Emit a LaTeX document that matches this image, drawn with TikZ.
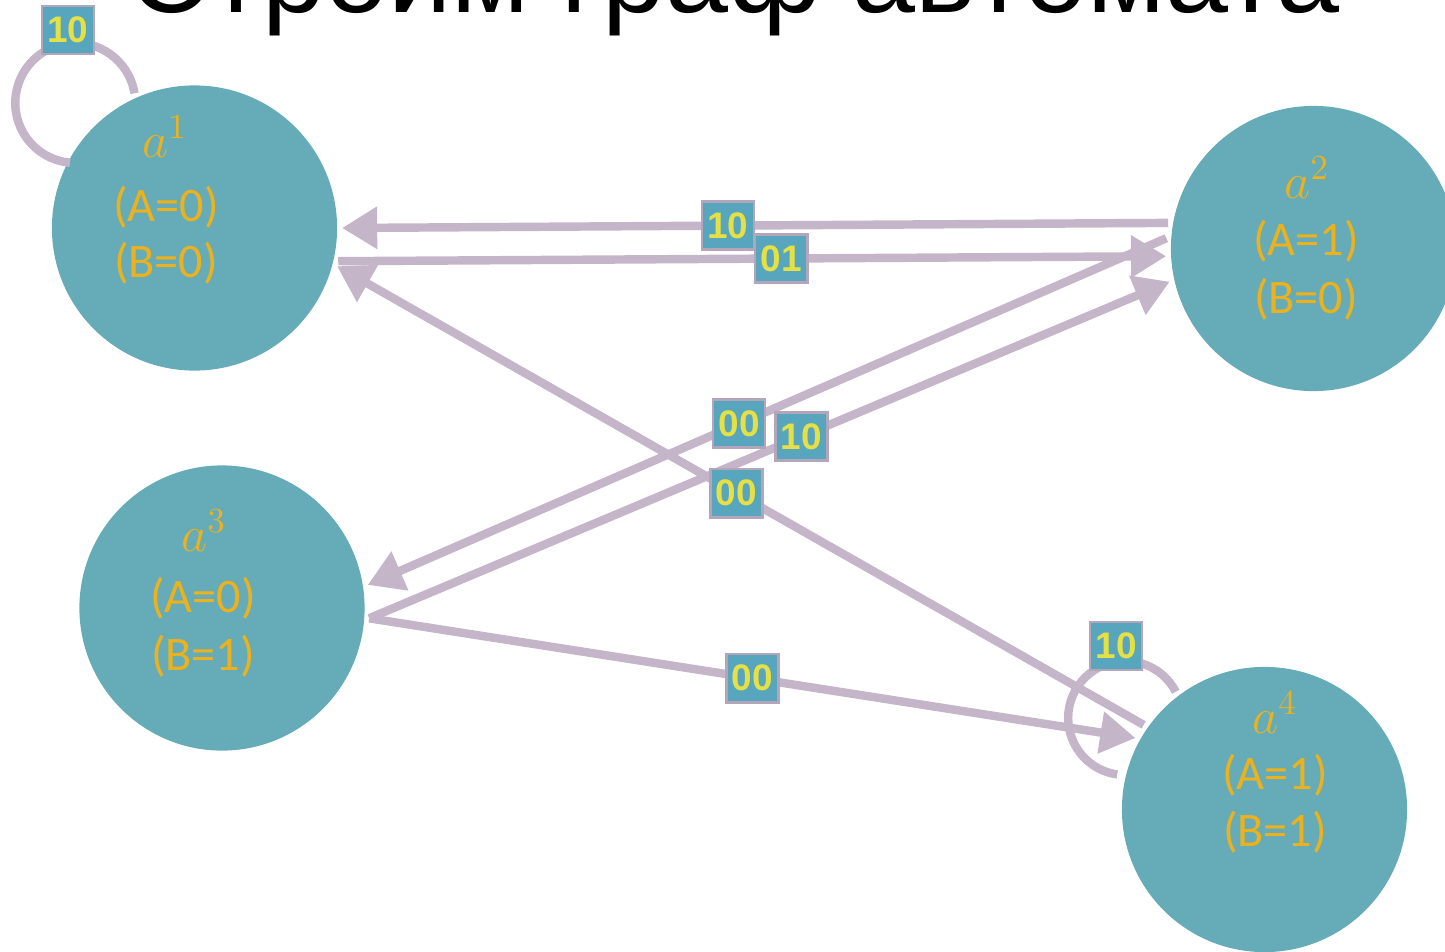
\documentclass[tikz,border=0pt]{standalone}
\usepackage{fontspec}
\setmainfont{Carlito}
\newfontfamily\headfont{Liberation Sans}
\newfontfamily\tagfont{Liberation Sans}
\usetikzlibrary{arrows.meta,calc}

\definecolor{statefill}{RGB}{102,171,184}
\definecolor{stategold}{RGB}{235,178,30}
\definecolor{edgelilac}{RGB}{197,181,201}
\definecolor{tagfill}{RGB}{88,166,190}
\definecolor{tagtext}{RGB}{228,224,70}
\definecolor{tagborder}{RGB}{180,166,186}

\begin{document}
\begin{tikzpicture}[x=0.01cm,y=0.01cm,
  state/.style={circle,fill=statefill,minimum size=81.1pt,inner sep=0pt,outer sep=1.4pt},
  statetxt/.style={text=stategold,anchor=base,inner sep=0pt,font=\fontsize{13.7}{16}\selectfont},
  statesym/.style={statetxt,font=\fontsize{14.5}{16}\selectfont},
  trans/.style={draw=edgelilac,line width=2.4pt,-{Triangle[length=10pt,width=11.5pt]}},
  loopline/.style={draw=edgelilac,line width=2.4pt},
  tag/.style={fill=tagfill,draw=tagborder,line width=0.75pt,text=tagtext,
    font=\tagfont\bfseries\fontsize{10.5}{12}\selectfont,
    minimum width=14.8pt,minimum height=13.7pt,inner sep=0pt}
]
\useasboundingbox (0,0) rectangle (1445,-951);
\clip (0,0) rectangle (1445,-951);

% heading
\node[font=\headfont\fontsize{32.2}{36}\selectfont,anchor=base,inner sep=0pt] (title) at (734,-12) {Строим граф автомата};

% states
\node[state] (a1) at (194.5,-228) {};
\node[state] (a2) at (1313.5,-248.5) {};
\node[state] (a3) at (222,-608) {};
\node[state] (a4) at (1264.5,-809.5) {};

\node[statesym] (a1s) at (165,-157) {$a^{1}$};
\node[statetxt] (a1v) at (166,-221) {(A=0)};
\node[statetxt] (a1w) at (166,-277) {(B=0)};

\node[statesym] (a2s) at (1307,-198) {$a^{2}$};
\node[statetxt] (a2v) at (1306,-255) {(A=1)};
\node[statetxt] (a2w) at (1306,-313) {(B=0)};

\node[statesym] (a3s) at (204,-551) {$a^{3}$};
\node[statetxt] (a3v) at (203,-612) {(A=0)};
\node[statetxt] (a3w) at (203,-670) {(B=1)};

\node[statesym] (a4s) at (1275,-733) {$a^{4}$};
\node[statetxt] (a4v) at (1275,-789) {(A=1)};
\node[statetxt] (a4w) at (1275,-846) {(B=1)};

% transitions
\draw[trans] (a2.170.4) -- coordinate[pos=0.533] (m1) (a1.0);
\draw[trans] (a1.-13) -- coordinate[pos=0.535] (m2) (a2.183.7);
\draw[trans] (a2.176.7) -- coordinate[pos=0.535] (m3) (a3.9.7);
\draw[trans] (a3.-4.4) -- coordinate[pos=0.54] (m4) (a2.193.3);
\draw[trans] (a4.145.8) -- coordinate[pos=0.505] (m5) (a1.-15);
\draw[trans] (a3.-4.4) -- coordinate[pos=0.5] (m6) (a4.151);

% self loops
\draw[loopline] (a1.114) arc[start angle=9.3,end angle=265,radius=60];
\draw[loopline] (a4.127) arc[start angle=27.5,end angle=262,radius=57];

% input labels
\node[tag] (t1) at (m1) {10};
\node[tag] (t2) at (m2) {01};
\node[tag] (t3) at (m3) {00};
\node[tag] (t4) at (m4) {10};
\node[tag] (t5) at (m5) {00};
\node[tag] (t6) at (m6) {00};
\node[tag] (t7) at ($(a1.center)+(-126.5,198)$) {10};
\node[tag] (t8) at ($(a4.center)+(-148.5,163.5)$) {10};
\end{tikzpicture}
\end{document}
